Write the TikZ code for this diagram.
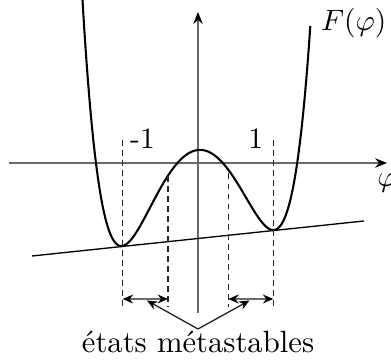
\documentclass[tikz,border=0pt]{standalone}
\usetikzlibrary{arrows.meta}
\definecolor{axisgray}{RGB}{105,105,105}
\begin{document}
\begin{tikzpicture}[x=0.339pt, y=-0.339pt,
  axisline/.style={draw=axisgray, line width=0.65pt, -{Stealth[black, length=4pt, width=3.2pt]}},
  curveline/.style={draw=black, line width=0.7pt},
  tangentline/.style={draw=black, line width=0.45pt},
  guide/.style={draw=black!85, line width=0.4pt, dash pattern=on 2pt off 1.4pt},
  span/.style={draw=axisgray, line width=0.6pt, {Stealth[black, length=3.5pt, width=3pt]}-{Stealth[black, length=3.5pt, width=3pt]}},
  pointer/.style={draw=black!85, line width=0.45pt, -{Stealth[black, length=3.5pt, width=3pt]}},
  lbl/.style={inner sep=0pt, anchor=base}]
\useasboundingbox (0,0) rectangle (391,362);
% axes
\coordinate (xs) at (9,163);
\coordinate (xe) at (387,163);
\coordinate (ys) at (198,313);
\coordinate (ye) at (198,12);
\draw[axisline] (xs) -- (xe);
\draw[axisline] (ys) -- (ye);
\node[lbl] (phi) at (387,187) {$\varphi$};
\node[lbl] (F) at (353.7,30.5) {$F(\varphi)$};
% curve
\draw[curveline] plot[domain=-1.525:1.481, samples=200, smooth]
  ({198+76*\x}, {163-(13+\x*\x*(-150.96+\x*\x*(37.9+25.04*\x*\x))+8*\x)});
% tangent line
\coordinate (ta) at (32,256);
\coordinate (tb) at (364,221);
\draw[tangentline] (ta) -- (tb);
% dashed guides
\coordinate (g1t) at (122.7,140);
\coordinate (g1b) at (122.7,307);
\coordinate (g2t) at (168,175.7);
\coordinate (g2b) at (168,307);
\coordinate (g3t) at (228.3,173.5);
\coordinate (g3b) at (228.3,307);
\coordinate (g4t) at (273.3,140);
\coordinate (g4b) at (273.3,307);
\draw[guide] (g1t) -- (g1b);
\draw[guide] (g2t) -- (g2b);
\draw[guide] (g3t) -- (g3b);
\draw[guide] (g4t) -- (g4b);
\node[lbl] (m1) at (142.5,149) {-1};
\node[lbl] (p1) at (255.8,149) {1};
% spans
\coordinate (s1a) at (122.7,299);
\coordinate (s1b) at (168,299);
\coordinate (s2a) at (228.3,299);
\coordinate (s2b) at (273.3,299);
\draw[span] (s1a) -- (s1b);
\draw[span] (s2a) -- (s2b);
% pointers
\coordinate (apex) at (198,329);
\coordinate (q1) at (147,300.5);
\coordinate (q2) at (249.5,300.5);
\draw[pointer] (apex) -- (q1);
\draw[pointer] (apex) -- (q2);
\node[lbl, font=\fontsize{10.4}{12}\selectfont] (txt) at (198,352.3) {états métastables};
\end{tikzpicture}
\end{document}
